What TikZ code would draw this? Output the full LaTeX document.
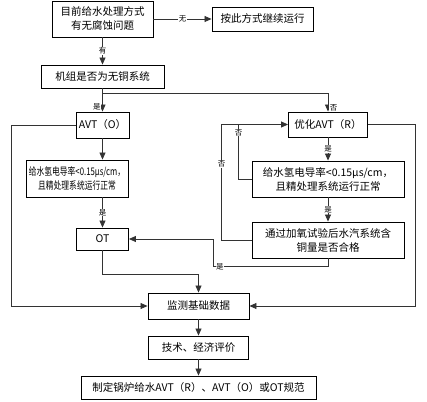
\documentclass[tikz,border=0pt]{standalone}
\usepackage{fontspec}
\usepackage{graphicx}
\newfontfamily\cjk{Noto Sans CJK SC}
\usetikzlibrary{arrows.meta}
\newcommand{\narrowtext}[1]{\scalebox{0.74}[1]{#1}}
\tikzset{
  box/.style={draw, line width=0.9pt, inner sep=0pt, align=center, font=\cjk\fontsize{10.5}{14}\selectfont},
  flow/.style={draw=black!80, line width=0.8pt, -{Triangle[length=7pt,width=6pt]}},
  link/.style={draw=black!80, line width=0.8pt},
  tag/.style={fill=white, inner sep=0.5pt, font=\cjk\fontsize{7.5}{8}\selectfont},
}
\begin{document}
\begin{tikzpicture}[x=1pt,y=-1pt]
\useasboundingbox (0,0) rectangle (427,401);
\node[box, minimum width=101pt, minimum height=36pt] (q1) at (102.5,19) {目前给水处理方式\\有无腐蚀问题};
\node[box, minimum width=101pt, minimum height=24pt] (keep) at (262.5,19) {按此方式继续运行};
\node[box, minimum width=123pt, minimum height=23pt] (cu) at (102.5,76.5) {机组是否为无铜系统};
\node[box, minimum width=53pt, minimum height=26pt] (avto) at (102.5,125) {AVT（O）};
\node[box, minimum width=79pt, minimum height=25pt] (avtr) at (328,124.5) {优化AVT（R）};
\node[box, minimum width=102pt, minimum height=37pt] (condl) at (77,178.5) {\narrowtext{给水氢电导率<0.15μs/cm，}\\\narrowtext{且精处理系统运行正常}};
\node[box, minimum width=52pt, minimum height=22pt] (ot) at (102.5,239) {OT};
\node[box, minimum width=152pt, minimum height=36pt] (condr) at (328,179) {给水氢电导率<0.15μs/cm，\\且精处理系统运行正常};
\node[box, minimum width=152pt, minimum height=36pt] (cutest) at (328,240) {通过加氧试验后水汽系统含\\铜量是否合格};
\node[box, minimum width=101pt, minimum height=26pt] (mon) at (198.5,306) {监测基础数据};
\node[box, minimum width=100pt, minimum height=23pt] (eval) at (198.5,347.5) {技术、经济评价};
\node[box, minimum width=235pt, minimum height=23pt] (spec) at (198.5,387.5) {制定锅炉给水AVT（R）、AVT（O）或OT规范};
\coordinate (fork) at (102.5,93);
\draw[flow] (q1) -- node[tag] {无} (keep);
\draw[flow] (q1) -- node[tag] {有} (cu);
\draw[flow] (cu) -- node[tag, pos=0.8, left=1pt] {是} (avto);
\draw[flow] (fork) -| node[tag, pos=0.9, right=1pt] {否} (avtr);
\draw[flow] (avto.west) -- ++(-64,0) |- (mon);
\draw[flow] (avtr.east) -- ++(47,0) |- (mon);
\draw[flow] (avto) -- (avto |- condl.north);
\draw[flow] (ot |- condl.south) -- node[tag] {是} (ot);
\draw[flow] (ot.south) -- ++(0,24) -| (mon);
\draw[flow] (avtr) -- node[tag] {是} (condr);
\draw[flow] (condr) -- node[tag] {是} (cutest);
\draw[flow] (cutest.west) -- ++(-30,0) |- node[tag, pos=0.33] {否} (avtr);
\draw[link] (condr.west) -- ++(-13,0) coordinate (bend) -- node[tag, pos=0.85] {否} (bend |- avtr.west);
\draw[flow] (cutest.south) -- ++(0,8) -| node[tag, pos=0.47] {是} ([xshift=84pt]ot.east) -- (ot.east);
\draw[flow] (mon) -- (eval);
\draw[flow] (eval) -- (spec);
\end{tikzpicture}
\end{document}
